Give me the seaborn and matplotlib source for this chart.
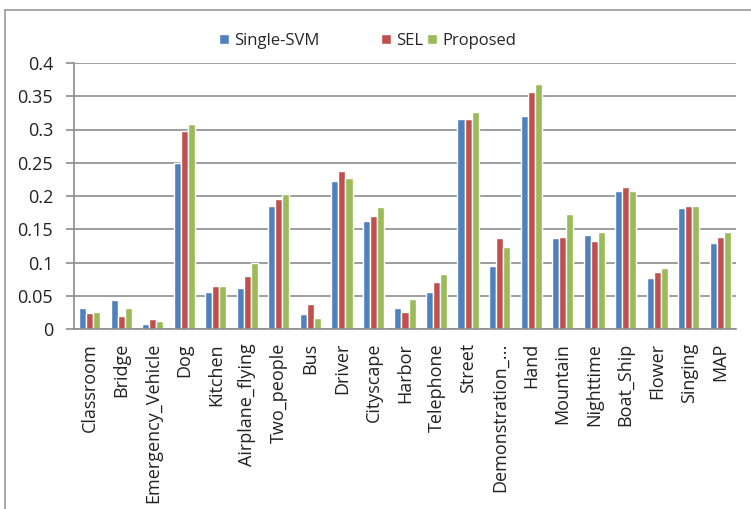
import matplotlib
matplotlib.use("Agg")
import matplotlib.pyplot as plt
import seaborn as sns
import pandas as pd
import numpy as np
from matplotlib.lines import Line2D

categories = ["Classroom", "Bridge", "Emergency_Vehicle", "Dog", "Kitchen", "Airplane_flying",
              "Two_people", "Bus", "Driver", "Cityscape", "Harbor", "Telephone", "Street",
              "Demonstration_...", "Hand", "Mountain", "Nighttime", "Boat_Ship", "Flower",
              "Singing", "MAP"]
single_svm = [0.031, 0.043, 0.008, 0.249, 0.055, 0.062, 0.185, 0.022, 0.222, 0.163, 0.031,
              0.055, 0.316, 0.094, 0.321, 0.137, 0.142, 0.208, 0.076, 0.182, 0.130]
sel = [0.024, 0.019, 0.015, 0.298, 0.064, 0.080, 0.196, 0.038, 0.238, 0.170, 0.026,
       0.071, 0.316, 0.137, 0.356, 0.139, 0.132, 0.213, 0.085, 0.185, 0.139]
proposed = [0.026, 0.031, 0.012, 0.309, 0.064, 0.099, 0.203, 0.017, 0.227, 0.184, 0.045,
            0.083, 0.326, 0.123, 0.368, 0.173, 0.146, 0.208, 0.092, 0.185, 0.146]
series_names = ["Single-SVM", "SEL", "Proposed"]
colors = ["#4F81BD", "#C0504D", "#9BBB59"]
yticks = [0, 0.05, 0.1, 0.15, 0.2, 0.25, 0.3, 0.35, 0.4]
ytick_labels = ["0", "0.05", "0.1", "0.15", "0.2", "0.25", "0.3", "0.35", "0.4"]

rows = []
for name, vals in zip(series_names, [single_svm, sel, proposed]):
    for c, v in zip(categories, vals):
        rows.append({"category": c, "series": name, "value": v})
df = pd.DataFrame(rows)

sns.set_style("white")
plt.rcParams["font.family"] = ["Open Sans", "DejaVu Sans"]
FS = 13
LFS = 12

fig = plt.figure(figsize=(7.51, 5.09), dpi=100)
ax = fig.add_axes([74/751, 1-329/509, (736-74)/751, (329-63)/509])

sns.barplot(data=df, x="category", y="value", hue="series", order=categories,
            hue_order=series_names, palette=colors, width=0.67, gap=0,
            saturation=1, ax=ax, legend=True)

ax.set_xlim(-0.5, len(categories) - 0.5)
ax.set_ylim(0, 0.4)
ax.set_yticks(yticks)
ax.set_yticklabels(ytick_labels, fontsize=FS, color="#222222")
ax.yaxis.grid(True, color="#8c8c8c", linewidth=1.2)
ax.set_axisbelow(True)
ax.set_xlabel("")
ax.set_ylabel("")
ax.set_xticks(range(len(categories)))
ax.set_xticklabels(categories, rotation=90, fontsize=FS, color="#222222")
ax.tick_params(axis="x", which="major", length=0, pad=10)
ax.set_xticks(np.arange(-0.5, len(categories), 1.0), minor=True)
ax.tick_params(axis="x", which="minor", length=6, color="#8c8c8c", width=1.2)
ax.tick_params(axis="y", length=6, color="#8c8c8c", width=1.2, left=True, pad=9)
for s in ["top", "right"]:
    ax.spines[s].set_visible(False)
for s in ["left", "bottom"]:
    ax.spines[s].set_color("#8c8c8c")
    ax.spines[s].set_linewidth(1.2)

handles, labels = ax.get_legend_handles_labels()
ax.get_legend().remove()
leg1 = fig.legend(handles[:1], labels[:1], loc="center left",
                  bbox_to_anchor=(219/751, 1 - 41/509), frameon=False, fontsize=LFS,
                  handlelength=0.6, handleheight=0.6, handletextpad=0.3,
                  borderpad=0, borderaxespad=0)
leg2 = fig.legend(handles[1:], labels[1:], loc="center left", ncol=2,
                  bbox_to_anchor=(381/751, 1 - 41/509), frameon=False, fontsize=LFS,
                  handlelength=0.6, handleheight=0.6, handletextpad=0.3,
                  columnspacing=0.25, borderpad=0, borderaxespad=0)

fig.add_artist(Line2D([5/751, 1.0], [1 - 10/509, 1 - 10/509], transform=fig.transFigure,
                      color="#9a9a9a", linewidth=1.2))
fig.add_artist(Line2D([5/751, 5/751], [0.0, 1 - 10/509], transform=fig.transFigure,
                      color="#9a9a9a", linewidth=1.2))

fig.savefig("out.png", dpi=100)
